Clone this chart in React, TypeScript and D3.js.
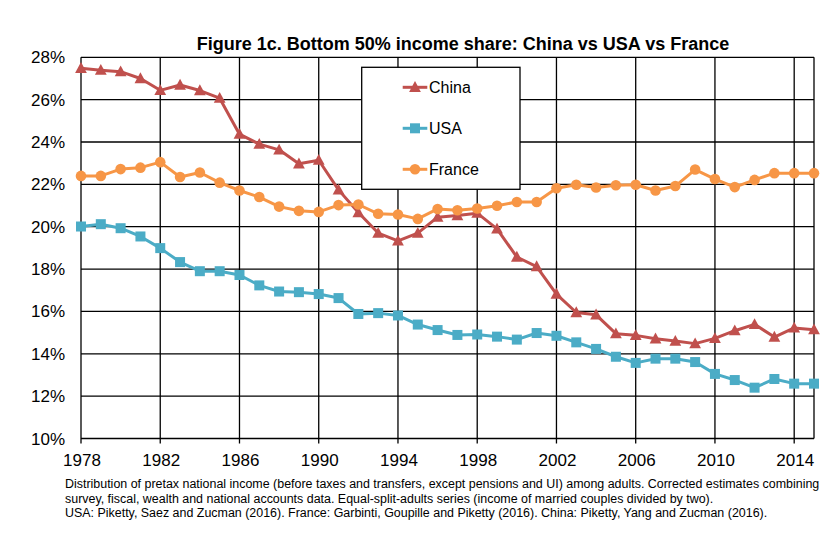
import React from "react";
import * as d3 from "d3";

const years = d3.range(1978, 2016);
const china = [27.48, 27.39, 27.32, 27.0, 26.44, 26.69, 26.43, 26.07, 24.37, 23.9, 23.63, 22.97, 23.14, 21.74, 20.67, 19.7, 19.33, 19.7, 20.45, 20.53, 20.64, 19.9, 18.57, 18.12, 16.82, 15.95, 15.84, 14.95, 14.87, 14.71, 14.6, 14.48, 14.73, 15.09, 15.39, 14.79, 15.22, 15.14];
const usa = [20.01, 20.12, 19.93, 19.54, 18.99, 18.33, 17.9, 17.9, 17.72, 17.23, 16.94, 16.91, 16.82, 16.63, 15.88, 15.92, 15.81, 15.38, 15.12, 14.89, 14.91, 14.81, 14.67, 14.98, 14.85, 14.54, 14.23, 13.86, 13.57, 13.77, 13.77, 13.61, 13.05, 12.76, 12.4, 12.81, 12.59, 12.59];
const france = [22.4, 22.4, 22.72, 22.79, 23.05, 22.35, 22.56, 22.08, 21.71, 21.4, 20.95, 20.75, 20.7, 21.02, 21.05, 20.61, 20.58, 20.37, 20.84, 20.78, 20.86, 20.99, 21.17, 21.17, 21.82, 21.98, 21.85, 21.96, 21.98, 21.71, 21.92, 22.7, 22.25, 21.87, 22.21, 22.53, 22.53, 22.53];
const yTicks = [10, 12, 14, 16, 18, 20, 22, 24, 26, 28];
const xTicks = [1978, 1982, 1986, 1990, 1994, 1998, 2002, 2006, 2010, 2014];
const seriesNames = ["China", "USA", "France"];
const colors = ["#C0504D", "#4BACC6", "#F79646"];
const title = "Figure 1c. Bottom 50% income share: China vs USA vs France";
const notes = [
  "Distribution of pretax national income (before taxes and transfers, except pensions and UI) among adults. Corrected estimates combining",
  "survey, fiscal, wealth and national accounts data. Equal-split-adults series (income of married couples divided by two).",
  "USA: Piketty, Saez and Zucman (2016). France: Garbinti, Goupille and Piketty (2016). China: Piketty, Yang and Zucman (2016).",
];

const W = 840, H = 549;
const x = d3.scaleLinear().domain([1978, 2015]).range([81, 814]);
const y = d3.scaleLinear().domain([10, 28]).range([438.5, 57.3]);

function Marker({ kind, cx, cy, color }: { kind: number; cx: number; cy: number; color: string }) {
  if (kind === 0) {
    const s = 6.2;
    return <path d={`M${cx},${cy - s}L${cx + s * 0.95},${cy + s * 0.75}L${cx - s * 0.95},${cy + s * 0.75}Z`} fill={color} />;
  }
  if (kind === 1) {
    return <rect x={cx - 5} y={cy - 5} width={10} height={10} fill={color} />;
  }
  return <circle cx={cx} cy={cy} r={5.3} fill={color} />;
}

export default function App() {
  const data = [china, usa, france];
  const line = d3.line<number>().x((_, i) => x(years[i])).y((v) => y(v));
  const font = "'Liberation Sans', Arial, sans-serif";
  return (
    <svg width={W} height={H} style={{ position: "absolute", left: 0, top: 0, background: "#fff" }} fontFamily={font}>
      <rect width={W} height={H} fill="#fff" />
      <text x={463} y={49.5} textAnchor="middle" fontWeight="bold" fontSize={18}>{title}</text>
      {/* grid */}
      {yTicks.map((t) => (
        <line key={"h" + t} x1={x(1978)} x2={x(2015)} y1={y(t)} y2={y(t)} stroke="#000" strokeWidth={1.3} />
      ))}
      {xTicks.map((t) => (
        <line key={"v" + t} x1={x(t)} x2={x(t)} y1={y(28)} y2={y(10) + 5} stroke="#000" strokeWidth={1.3} />
      ))}
      <line x1={x(2015)} x2={x(2015)} y1={y(28)} y2={y(10)} stroke="#000" strokeWidth={1.3} />
      {yTicks.map((t) => (
        <text key={"yl" + t} x={65} y={y(t) + 6} textAnchor="end" fontSize={17}>{t}%</text>
      ))}
      {xTicks.map((t) => (
        <text key={"xl" + t} x={x(t) + 1} y={465.5} textAnchor="middle" fontSize={17}>{t}</text>
      ))}
      {/* series */}
      {data.map((s, k) => (
        <g key={"s" + k}>
          <path d={line(s) || ""} fill="none" stroke={colors[k]} strokeWidth={3} strokeLinejoin="round" />
          {s.map((v, i) => (
            <Marker key={i} kind={k} cx={x(years[i])} cy={y(v)} color={colors[k]} />
          ))}
        </g>
      ))}
      {/* legend */}
      <rect x={361.7} y={67.3} width={158.3} height={122} fill="#fff" stroke="#000" strokeWidth={1.3} />
      {seriesNames.map((n, k) => {
        const ly = 87.3 + k * 41;
        return (
          <g key={"lg" + k}>
            <line x1={402.7} x2={427.3} y1={ly} y2={ly} stroke={colors[k]} strokeWidth={3} />
            <Marker kind={k} cx={415} cy={ly} color={colors[k]} />
            <text x={429} y={ly + 5.5} fontSize={16}>{n}</text>
          </g>
        );
      })}
      {notes.map((n, i) => (
        <text key={"n" + i} x={65} y={488.3 + i * 14.5} fontSize={12.45}>{n}</text>
      ))}
    </svg>
  );
}
